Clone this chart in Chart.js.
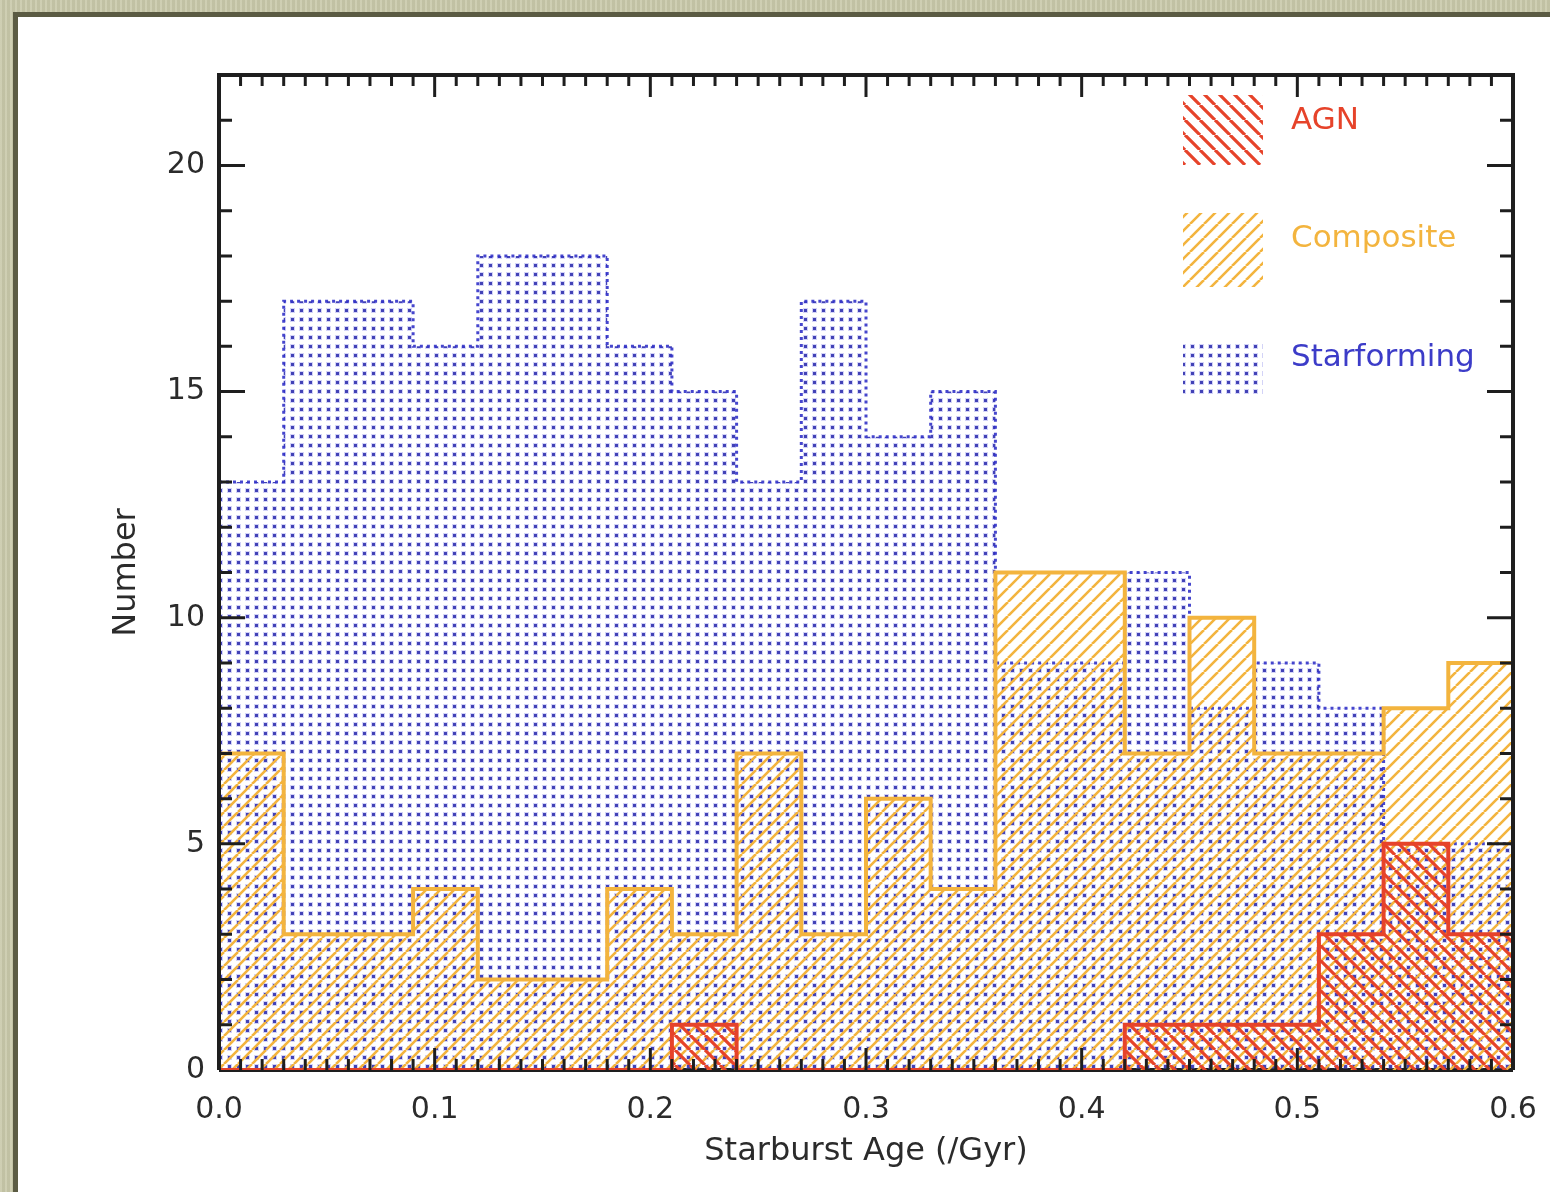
<!DOCTYPE html>
<html>
<head>
<meta charset="utf-8">
<script src="https://cdn.jsdelivr.net/npm/chart.js@4.4.0/dist/chart.umd.min.js"></script>
<style>
html, body { margin: 0; padding: 0; }
body {
    width: 1550px; height: 1192px; position: relative; overflow: hidden;
    background-color: #c9c9aa;
    background-image: repeating-linear-gradient(90deg, rgba(255,255,255,0.10) 0 2px, rgba(0,0,0,0.04) 2px 5px);
}
#frame {
    position: absolute; left: 13px; top: 12px; right: 0; bottom: 0;
    background: #fff;
    border-left: 5px solid #5b5b43; border-top: 5px solid #5b5b43;
}
#chart { position: absolute; left: 0; top: 0; }
</style>
</head>
<body>
<div id="frame"></div>
<canvas id="chart" width="1550" height="1192"></canvas>
<script>
// bin edges (Gyr), 20 bins of 0.03
const binEdges = [0.00, 0.03, 0.06, 0.09, 0.12, 0.15, 0.18, 0.21, 0.24, 0.27, 0.30,
                  0.33, 0.36, 0.39, 0.42, 0.45, 0.48, 0.51, 0.54, 0.57, 0.60];
// counts per bin
const agnCounts       = [0, 0, 0, 0, 0, 0, 0, 1, 0, 0, 0, 0, 0, 0, 1, 1, 1, 3, 5, 3];
const compositeCounts = [7, 3, 3, 4, 2, 2, 4, 3, 7, 3, 6, 4, 11, 11, 7, 10, 7, 7, 8, 9];
const starformCounts  = [13, 17, 17, 16, 18, 18, 16, 15, 13, 17, 14, 15, 9, 9, 11, 8, 9, 8, 5, 5];
const seriesNames = ['AGN', 'Composite', 'Starforming'];
const xTickLabels = ['0.0', '0.1', '0.2', '0.3', '0.4', '0.5', '0.6'];
const yTickValues = [0, 5, 10, 15, 20];

const FONT = '"DejaVu Sans", sans-serif';
const TXT = '#2b2b2b';
const RED = '#e6432a';
const ORANGE = '#f3b43e';
const BLUE = '#3c3cc8';

function hatch(color, dir, period, lw) {
    const c = document.createElement('canvas');
    c.width = period; c.height = period;
    const g = c.getContext('2d');
    g.strokeStyle = color;
    g.lineWidth = lw;
    g.beginPath();
    for (let k = -1; k <= 1; k++) {
        if (dir > 0) { g.moveTo(k * period, period); g.lineTo(k * period + period, 0); }
        else { g.moveTo(k * period, 0); g.lineTo(k * period + period, period); }
    }
    g.stroke();
    return g.createPattern(c, 'repeat');
}
function dots(color, period) {
    const c = document.createElement('canvas');
    c.width = period; c.height = period;
    const g = c.getContext('2d');
    g.fillStyle = 'rgba(110,110,230,0.30)';
    g.fillRect(2, 2, 5, 5);
    g.fillStyle = color;
    g.fillRect(3, 3, 3, 3);
    return g.createPattern(c, 'repeat');
}

const redHatch = hatch(RED, -1, 15, 3.2);
const orangeHatch = hatch(ORANGE, 1, 14, 2.6);
const blueDots = dots('rgba(40,40,170,0.85)', 9);

// histogram as stepped line: one point per bin edge, last bin value repeated at 0.6
function steps(counts) {
    return binEdges.map((x, i) => ({ x: x, y: counts[Math.min(i, counts.length - 1)] }));
}

const axisFrame = {
    id: 'axisFrame',
    beforeDatasetsDraw(chart) {
        const { ctx, chartArea: a } = chart;
        ctx.save();
        ctx.strokeStyle = '#1e1e1e';
        ctx.lineWidth = 4;
        ctx.beginPath();
        ctx.moveTo(a.left, a.bottom); ctx.lineTo(a.right, a.bottom);
        ctx.stroke();
        ctx.restore();
    },
    afterDatasetsDraw(chart) {
        const { ctx, chartArea: a, scales: { x, y } } = chart;
        ctx.save();
        ctx.strokeStyle = '#1e1e1e';
        ctx.lineWidth = 3;
        ctx.beginPath();
        for (let i = 1; i < 60; i++) {
            const px = x.getPixelForValue(i / 100);
            const len = i % 10 === 0 ? 22 : 11;
            ctx.moveTo(px, a.top); ctx.lineTo(px, a.top + len);
            ctx.moveTo(px, a.bottom); ctx.lineTo(px, a.bottom - len);
        }
        for (let i = 1; i < 22; i++) {
            const py = y.getPixelForValue(i);
            const len = i % 5 === 0 ? 26 : 13;
            ctx.moveTo(a.left, py); ctx.lineTo(a.left + len, py);
            ctx.moveTo(a.right, py); ctx.lineTo(a.right - len, py);
        }
        ctx.stroke();
        ctx.lineWidth = 4;
        ctx.beginPath();
        ctx.moveTo(a.left, a.bottom); ctx.lineTo(a.left, a.top);
        ctx.lineTo(a.right, a.top); ctx.lineTo(a.right, a.bottom);
        ctx.stroke();
        ctx.restore();
    },
    afterDraw(chart) {
        const { ctx, chartArea: a } = chart;
        const fills = [redHatch, orangeHatch, blueDots];
        const colors = [RED, ORANGE, BLUE];
        const boxes = [[20, 70], [138, 74], [265, 55]];
        ctx.save();
        ctx.font = '31px ' + FONT;
        ctx.textBaseline = 'middle';
        for (let i = 0; i < seriesNames.length; i++) {
            const bx = a.right - 330, by = a.top + boxes[i][0];
            ctx.fillStyle = fills[i];
            ctx.fillRect(bx, by, 80, boxes[i][1]);
            ctx.fillStyle = colors[i];
            ctx.fillText(seriesNames[i], a.right - 222, by + (i === 2 ? 18 : 26));
        }
        ctx.restore();
    }
};

new Chart(document.getElementById('chart'), {
    type: 'line',
    data: {
        datasets: [
            { label: seriesNames[0], data: steps(agnCounts), stepped: 'before', fill: 'origin',
              backgroundColor: redHatch, borderColor: RED, borderWidth: 4, pointRadius: 0 },
            { label: seriesNames[1], data: steps(compositeCounts), stepped: 'before', fill: 'origin',
              backgroundColor: orangeHatch, borderColor: ORANGE, borderWidth: 4, pointRadius: 0 },
            { label: seriesNames[2], data: steps(starformCounts), stepped: 'before', fill: 'origin',
              backgroundColor: blueDots, borderColor: 'rgba(50,50,200,0.9)', borderWidth: 3,
              borderDash: [3, 4], pointRadius: 0 }
        ]
    },
    options: {
        responsive: false,
        animation: false,
        layout: { padding: { left: 0, top: 75, right: 37, bottom: 0 } },
        scales: {
            x: {
                type: 'linear', min: 0, max: 0.6,
                grid: { display: false, drawTicks: false },
                border: { display: false },
                ticks: {
                    stepSize: 0.1, padding: 22, color: TXT, font: { family: FONT, size: 30 },
                    callback: (v) => xTickLabels[Math.round(v * 10)]
                },
                title: { display: true, text: 'Starburst Age (/Gyr)', color: TXT,
                         font: { family: FONT, size: 32 }, padding: { top: 0, bottom: 21 } },
                afterFit: (s) => { s.height = 122; s.paddingLeft = 0; s.paddingRight = 0; }
            },
            y: {
                type: 'linear', min: 0, max: 22,
                grid: { display: false, drawTicks: false },
                border: { display: false },
                afterBuildTicks: (s) => { s.ticks = yTickValues.map(v => ({ value: v })); },
                ticks: { padding: 14, color: TXT, font: { family: FONT, size: 30 } },
                title: { display: true, text: 'Number', color: TXT,
                         font: { family: FONT, size: 32 }, padding: { top: 107, bottom: 0 } },
                afterFit: (s) => { s.width = 219; s.paddingTop = 0; s.paddingBottom = 0; }
            }
        },
        plugins: { legend: { display: false }, tooltip: { enabled: false } }
    },
    plugins: [axisFrame]
});
</script>
</body>
</html>
